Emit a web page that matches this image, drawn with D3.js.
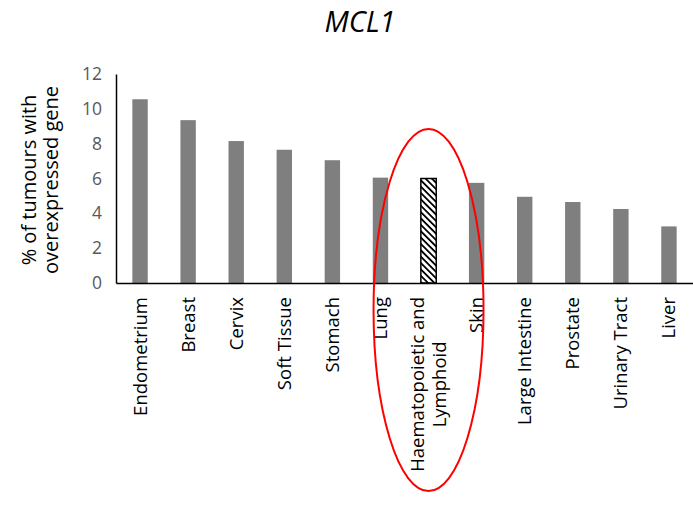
<!DOCTYPE html>
<html>
<head>
<meta charset="utf-8">
<script src="https://cdn.jsdelivr.net/npm/d3@7"></script>
<style>
  body { margin: 0; background: #fff; }
  svg { display: block; font-family: "Open Sans", sans-serif; }
</style>
</head>
<body>
<svg id="chart" width="693" height="520"></svg>
<script>
// tissues, in order of the bars
const tissues = ["Endometrium", "Breast", "Cervix", "Soft Tissue", "Stomach", "Lung",
    "Haematopoietic and\nLymphoid", "Skin", "Large Intestine", "Prostate", "Urinary Tract", "Liver"];
// % of tumours with overexpressed MCL1
const percents = [10.55, 9.35, 8.15, 7.65, 7.05, 6.05, 6.0, 5.75, 4.95, 4.65, 4.25, 3.25];
const yTicks = [0, 2, 4, 6, 8, 10, 12];
const highlighted = "Haematopoietic and\nLymphoid";

const svg = d3.select("#chart");
const width = 693, height = 520;
const margin = { left: 116, right: 0, top: 74, bottom: 237 };

const x = d3.scaleBand()
    .domain(tissues)
    .range([margin.left, width - margin.right])
    .paddingInner(0.68)
    .paddingOuter(0.34);

const y = d3.scaleLinear()
    .domain([0, 12])
    .range([height - margin.bottom, margin.top]);

// hatch pattern for the highlighted bar
const defs = svg.append("defs");
const pat = defs.append("pattern")
    .attr("id", "hatch")
    .attr("patternUnits", "userSpaceOnUse")
    .attr("width", 4.5)
    .attr("height", 4.5)
    .attr("patternTransform", "rotate(45)");
pat.append("rect").attr("width", 4.5).attr("height", 4.5).attr("fill", "#fff");
pat.append("rect").attr("x", 0).attr("y", 0).attr("width", 4.5).attr("height", 1.8).attr("fill", "#000");

// title
svg.append("text")
    .attr("x", 360)
    .attr("y", 32)
    .attr("text-anchor", "middle")
    .attr("font-size", 29)
    .attr("font-style", "italic")
    .attr("fill", "#000")
    .text("MCL1");

// bars
svg.append("g")
    .selectAll("rect")
    .data(tissues)
    .join("rect")
    .attr("x", d => x(d))
    .attr("width", x.bandwidth())
    .attr("y", (d, i) => y(percents[i]))
    .attr("height", (d, i) => y(0) - y(percents[i]))
    .attr("fill", d => d === highlighted ? "url(#hatch)" : "#7f7f7f")
    .attr("stroke", d => d === highlighted ? "#000" : "none")
    .attr("stroke-width", 1.5);

// y axis
const yAxis = svg.append("g")
    .attr("transform", `translate(${margin.left},0)`)
    .call(d3.axisLeft(y).tickValues(yTicks).tickSize(0).tickPadding(14));
yAxis.select(".domain").attr("stroke", "#000").attr("stroke-width", 1.5);
yAxis.selectAll("text")
    .attr("font-size", 17.5)
    .attr("fill", "#595959")
    .attr("font-family", "'Open Sans', sans-serif");

// x axis
const xAxis = svg.append("g")
    .attr("transform", `translate(0,${y(0)})`)
    .call(d3.axisBottom(x).tickSize(0).tickFormat(""));
xAxis.select(".domain").attr("stroke", "#000").attr("stroke-width", 1.5);

// rotated category labels
const labels = svg.append("g")
    .selectAll("text")
    .data(tissues)
    .join("text")
    .attr("transform", d => `translate(${x(d) + x.bandwidth() / 2},${y(0) + 14}) rotate(-90)`)
    .attr("text-anchor", "end")
    .attr("font-size", 18.5)
    .attr("fill", "#000");
labels.each(function (d) {
    const lines = d.split("\n");
    const t = d3.select(this);
    lines.forEach((ln, k) => {
        t.append("tspan")
            .attr("x", 0)
            .attr("dy", k === 0 ? (0.35 - (lines.length - 1) * 0.6) + "em" : "1.2em")
            .attr("text-anchor", k === 0 ? "end" : "middle")
            .text(ln);
    });
});
// second line of the wrapped label is centred under the first one
labels.filter(d => d.includes("\n")).each(function () {
    const spans = d3.select(this).selectAll("tspan");
    const first = spans.nodes()[0].getComputedTextLength();
    spans.filter((d, k) => k === 1).attr("x", -first / 2);
});

// y axis title
svg.append("text")
    .attr("transform", "translate(36,180) rotate(-90)")
    .attr("text-anchor", "middle")
    .attr("font-size", 20)
    .attr("fill", "#000")
    .selectAll("tspan")
    .data(["% of tumours with", "overexpressed gene"])
    .join("tspan")
    .attr("x", 0)
    .attr("dy", (d, i) => i === 0 ? 0 : "1.1em")
    .text(d => d);

// red ellipse around the highlighted tissue
svg.append("ellipse")
    .attr("cx", x(highlighted) + x.bandwidth() / 2)
    .attr("cy", 310)
    .attr("rx", 55)
    .attr("ry", 181)
    .attr("fill", "none")
    .attr("stroke", "#ff0000")
    .attr("stroke-width", 2);
</script>
</body>
</html>
